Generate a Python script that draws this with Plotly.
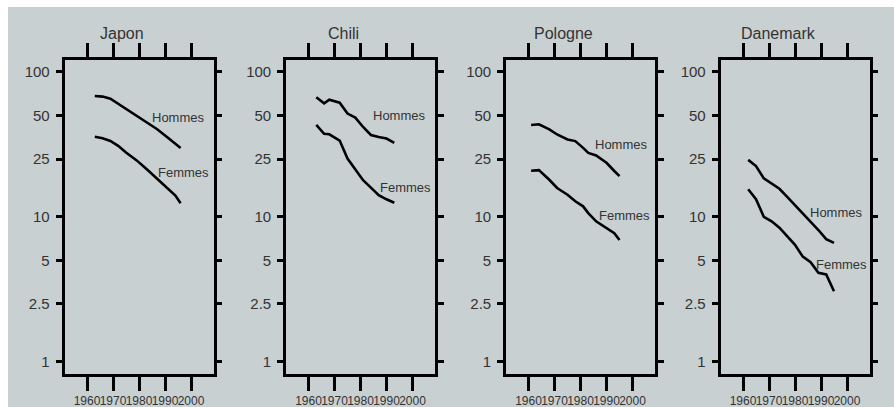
import math
import plotly.graph_objects as go

# ---------------- data ----------------
countries = ["Japon", "Chili", "Pologne", "Danemark"]

japon_years = [1963, 1966, 1969, 1972, 1975, 1979, 1983, 1987, 1991, 1994, 1996]
japon_hommes = [68.2, 67.6, 65.4, 60.4, 55.3, 49.8, 44.7, 40.2, 35.3, 31.7, 29.8]
japon_femmes = [35.7, 34.9, 33.4, 30.9, 27.8, 24.6, 21.3, 18.2, 15.5, 14.0, 12.4]

chili_years = [1963, 1966, 1968, 1972, 1975, 1978, 1981, 1984, 1987, 1990, 1993]
chili_hommes = [66.9, 60.7, 64.4, 61.4, 51.6, 48.4, 41.7, 36.7, 35.5, 34.7, 32.4]
chili_femmes = [43.1, 37.4, 37.1, 33.6, 25.2, 21.1, 17.9, 15.9, 14.1, 13.2, 12.5]

pologne_years = [1961, 1964, 1968, 1971, 1975, 1978, 1981, 1983, 1986, 1990, 1993, 1995]
pologne_hommes = [43.0, 43.5, 40.1, 37.0, 34.2, 33.3, 29.9, 27.6, 26.5, 23.6, 20.7, 19.1]
pologne_femmes = [20.8, 21.0, 18.0, 15.8, 14.2, 12.8, 11.8, 10.6, 9.3, 8.3, 7.7, 6.9]

danemark_years = [1962, 1965, 1968, 1971, 1974, 1977, 1980, 1983, 1986, 1989, 1992, 1995]
danemark_hommes = [24.7, 22.4, 18.4, 16.9, 15.6, 13.7, 12.0, 10.5, 9.3, 8.1, 7.0, 6.6]
danemark_femmes = [15.5, 13.2, 10.0, 9.3, 8.4, 7.3, 6.4, 5.3, 4.85, 4.1, 4.0, 3.06]

series_labels = ["Hommes", "Femmes"]

x_tickvals = [1960, 1970, 1980, 1990, 2000]
x_ticktext = ["1960", "1970", "1980", "1990", "2000"]
y_tickvals = [1, 2.5, 5, 10, 25, 50, 100]
y_ticktext = ["1", "2.5", "5", "10", "25", "50", "100"]

panels = [
    (japon_years, japon_hommes, japon_femmes),
    (chili_years, chili_hommes, chili_femmes),
    (pologne_years, pologne_hommes, pologne_femmes),
    (danemark_years, danemark_hommes, danemark_femmes),
]

# ---------------- layout constants (pixels) ----------------
W, H = 894, 407
BG = "#c9d0d2"
TXT = "#333333"
FONT = "Liberation Sans, Arial, sans-serif"

box_left = [64.5, 286, 506, 720.5]
box_w = 149
box_top, box_bot = 59.5, 374
title_cx_offset = -17
title_y = 33
# label centres (px) for Hommes / Femmes in each panel
label_px = [
    [(178.5, 117), (183, 172.7)],
    [(399.7, 115.7), (405, 187.7)],
    [(621, 144), (624, 216)],
    [(836.5, 212.3), (841.5, 264)],
]

x_range = [1960 - 22.5 / 2.6, 1960 + (box_w - 22.5) / 2.6]
y_range = [-0.086, 2.086]

fig = go.Figure()
layout = dict(
    width=W, height=H,
    margin=dict(l=0, r=0, t=0, b=0, autoexpand=False),
    paper_bgcolor="white",
    plot_bgcolor="rgba(0,0,0,0)",
    showlegend=False,
    font=dict(family=FONT, color=TXT),
    shapes=[dict(type="rect", xref="paper", yref="paper",
                 x0=8 / W, x1=1, y0=0, y1=1 - 7 / H,
                 fillcolor=BG, line=dict(width=0), layer="below")],
    annotations=[],
)

for i, (name, (yrs, hom, fem)) in enumerate(zip(countries, panels)):
    n = "" if i == 0 else str(i + 1)
    xa, ya = "x" + n, "y" + n
    for vals in (hom, fem):
        fig.add_trace(go.Scatter(x=yrs, y=vals, mode="lines",
                                 line=dict(color="black", width=2.6),
                                 xaxis=xa, yaxis=ya, hoverinfo="skip"))
    x0 = box_left[i] / W
    x1 = (box_left[i] + box_w) / W
    layout["xaxis" + n] = dict(
        domain=[x0, x1], range=x_range, anchor=ya,
        tickvals=x_tickvals, ticktext=x_ticktext, tickangle=0,
        ticks="outside", ticklen=14, tickwidth=2.6, tickcolor="black",
        showline=True, linewidth=2.6, linecolor="black", mirror="ticks",
        showgrid=False, zeroline=False, ticklabelstandoff=0, automargin=False,
        tickfont=dict(size=12, color=TXT, family=FONT),
    )
    layout["yaxis" + n] = dict(
        domain=[1 - box_bot / H, 1 - box_top / H], type="log", range=y_range,
        anchor=xa,
        tickvals=y_tickvals, ticktext=y_ticktext,
        ticks="outside", ticklen=6, tickwidth=2.6, tickcolor="black",
        showline=True, linewidth=2.6, linecolor="black", mirror="ticks",
        showgrid=False, zeroline=False, ticklabelstandoff=3, automargin=False,
        tickfont=dict(size=15, color=TXT, family=FONT),
    )
    layout["annotations"].append(dict(
        text=name, xref="paper", yref="paper",
        x=(box_left[i] + box_w / 2 + title_cx_offset) / W, y=1 - title_y / H,
        xanchor="center", yanchor="middle", showarrow=False,
        font=dict(size=16, color=TXT, family=FONT)))
    for lab, (px, py) in zip(series_labels, label_px[i]):
        layout["annotations"].append(dict(
            text=lab, xref="paper", yref="paper",
            x=px / W, y=1 - py / H, xanchor="center", yanchor="middle",
            showarrow=False, font=dict(size=13, color=TXT, family=FONT)))

fig.update_layout(**layout)
fig.write_html("out.html")
